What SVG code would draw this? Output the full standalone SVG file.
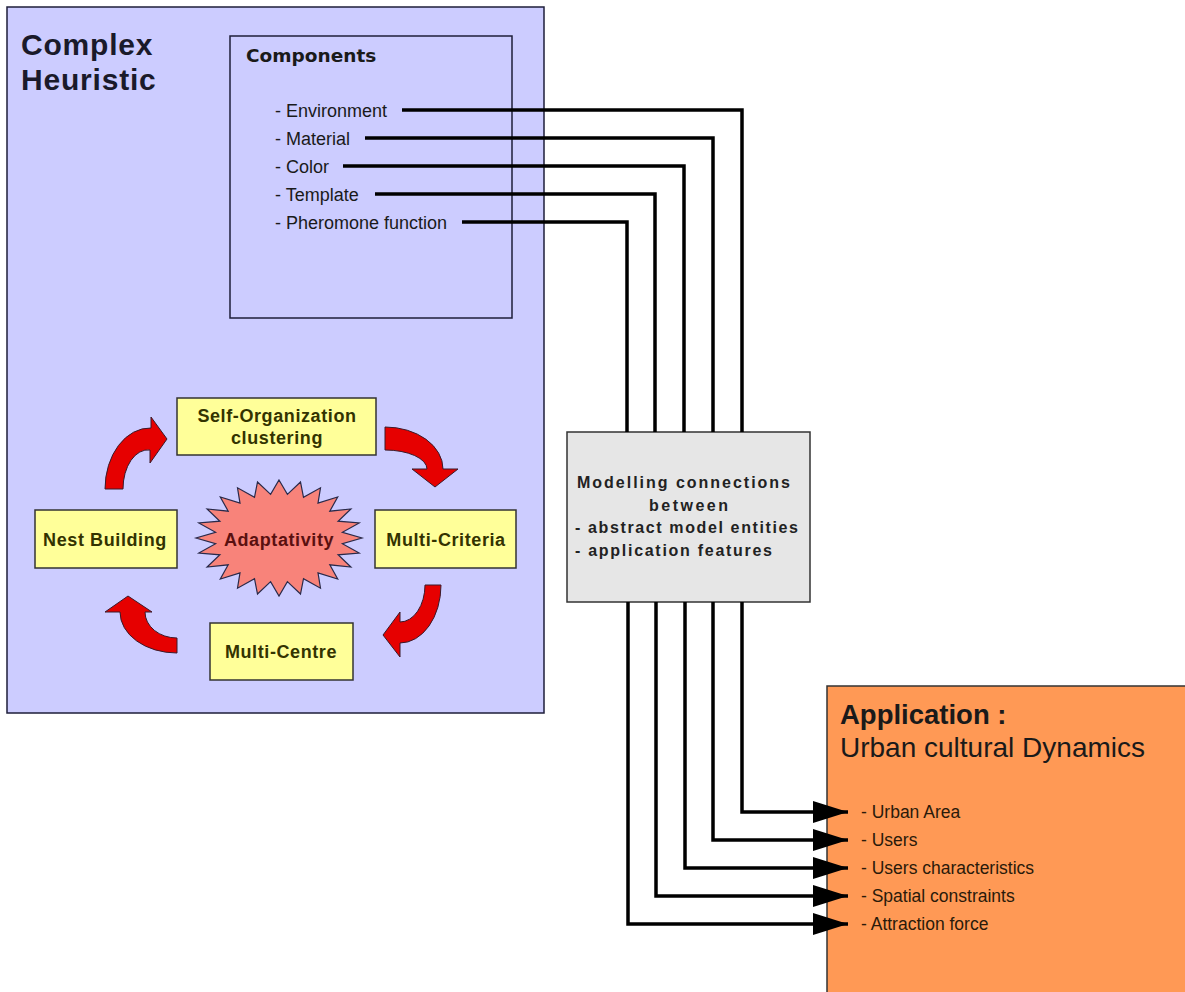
<svg xmlns="http://www.w3.org/2000/svg" width="1185" height="992" viewBox="0 0 1185 992">
<defs>
<style>
.panel{fill:#ccccff;stroke:#1e1e3a;stroke-width:1.5}
.ybox{fill:#ffff99;stroke:#333;stroke-width:1.5}
.item{font-family:"Liberation Sans",Arial,sans-serif;font-size:18px;fill:#1a1a1a}
.appitem{font-family:"Liberation Sans",Arial,sans-serif;font-size:17.5px;fill:#2a1a0a}
.cyc{font-family:"Liberation Sans",Arial,sans-serif;font-size:18px;font-weight:bold;fill:#333300;letter-spacing:0.6px;text-anchor:middle}
.grey{font-family:"Liberation Sans",Arial,sans-serif;font-size:16px;font-weight:bold;fill:#222}
.conn{fill:none;stroke:#000;stroke-width:3.5;stroke-linejoin:miter}
.red{fill:#e60000;stroke:#3a1a2a;stroke-width:1}
</style>
<marker id="ah" markerUnits="userSpaceOnUse" markerWidth="36" markerHeight="24" refX="35" refY="12" orient="auto">
<path d="M0,1 L35,12 L0,23 Z" fill="#000"/>
</marker>
</defs>
<rect width="1185" height="992" fill="#ffffff"/>

<g id="complex-heuristic">
<rect class="panel" x="7" y="7" width="537" height="706"/>
<text x="21" y="55" font-family="'Liberation Sans',Arial,sans-serif" font-size="30" font-weight="bold" letter-spacing="0.8" fill="#1a1a2a">Complex</text>
<text x="21" y="90" font-family="'Liberation Sans',Arial,sans-serif" font-size="30" font-weight="bold" letter-spacing="0.8" fill="#1a1a2a">Heuristic</text>
</g>

<g id="components">
<rect x="230" y="36" width="282" height="282" fill="#ccccff" stroke="#1e1e3a" stroke-width="1.5"/>
<text x="246" y="62" font-family="'DejaVu Sans',sans-serif" font-size="18.5" font-weight="bold" fill="#1a1a1a">Components</text>
<text class="item" x="275" y="116.5">- Environment</text>
<text class="item" x="275" y="144.5">- Material</text>
<text class="item" x="275" y="172.5">- Color</text>
<text class="item" x="275" y="200.5">- Template</text>
<text class="item" x="275" y="228.5">- Pheromone function</text>
</g>

<g id="cycle-arrows">
<path class="red" d="M105,489 A45,61 0 0 1 151,428 L151,417 L167,439 L150,463 L150,450 A25,39 0 0 0 123,489 Z"/>
<path class="red" d="M385,427 A58,42 0 0 1 443,469 L458,469 L435,487 L412,469 L427,469 A42,19 0 0 0 385,450 Z"/>
<path class="red" d="M441,585 A41,58 0 0 1 400,643 L400,657 L383,635 L400,612 L400,622 A25,37 0 0 0 425,585 Z"/>
<path class="red" d="M177,653 A57,41 0 0 1 120,612 L105,612 L128,596 L152,612 L145,612 A32,26 0 0 0 177,638 Z"/>
</g>

<g id="self-organization">
<rect class="ybox" x="177" y="398" width="199" height="57"/>
<text class="cyc" x="277" y="422">Self-Organization</text>
<text class="cyc" x="277" y="444">clustering</text>
</g>

<g id="nest-building">
<rect class="ybox" x="35" y="510" width="142" height="58"/>
<text class="cyc" x="105" y="546">Nest Building</text>
</g>

<g id="multi-criteria">
<rect class="ybox" x="375" y="510" width="141" height="58"/>
<text class="cyc" x="446" y="546">Multi-Criteria</text>
</g>

<g id="multi-centre">
<rect class="ybox" x="210" y="623" width="143" height="57"/>
<text class="cyc" x="281" y="658">Multi-Centre</text>
</g>

<g id="adaptativity">
<polygon fill="#f8837a" stroke="#2a2a4a" stroke-width="1.2" points="279,480 287.4,494.4 300.5,482 303.5,497.3 320.5,487.8 318,503.1 337.7,497 329.8,511.2 350.9,509 338.1,521.2 359.2,523 342.4,532.3 362,538 342.4,543.7 359.2,553 338.1,554.8 350.9,567 329.8,564.8 337.7,579 318,572.9 320.5,588.2 303.5,578.7 300.5,594 287.4,581.6 279,596 270.6,581.6 257.5,594 254.5,578.7 237.5,588.2 240,572.9 220.3,579 228.2,564.8 207.1,567 219.9,554.8 198.8,553 215.6,543.7 196,538 215.6,532.3 198.8,523 219.9,521.2 207.1,509 228.2,511.2 220.3,497 240,503.1 237.5,487.8 254.5,497.3 257.5,482 270.6,494.4"/>
<text class="cyc" x="279" y="546" style="fill:#5a1010">Adaptativity</text>
</g>

<g id="modelling">
<rect x="567" y="432" width="243" height="170" fill="#e6e6e6" stroke="#333" stroke-width="1.5"/>
<text class="grey" x="577" y="488" textLength="213" lengthAdjust="spacing">Modelling connections</text>
<text class="grey" x="649" y="511" textLength="79" lengthAdjust="spacing">between</text>
<text class="grey" x="575" y="533" textLength="223" lengthAdjust="spacing">- abstract model entities</text>
<text class="grey" x="575" y="556" textLength="197" lengthAdjust="spacing">- application features</text>
</g>

<g id="application">
<rect x="827" y="686" width="400" height="400" fill="#ff9955" stroke="#333" stroke-width="1.5"/>
<text x="840" y="724" font-family="'Liberation Sans',Arial,sans-serif" font-size="27.5" font-weight="bold" fill="#1a1a1a">Application :</text>
<text x="840" y="757" font-family="'Liberation Sans',Arial,sans-serif" font-size="28" fill="#1a1a1a">Urban cultural Dynamics</text>
<text class="appitem" x="861" y="818">- Urban Area</text>
<text class="appitem" x="861" y="846">- Users</text>
<text class="appitem" x="861" y="874">- Users characteristics</text>
<text class="appitem" x="861" y="902">- Spatial constraints</text>
<text class="appitem" x="861" y="930">- Attraction force</text>
</g>

<g id="connectors">
<path class="conn" d="M402,110 H742 V432"/>
<path class="conn" d="M365,138 H713 V432"/>
<path class="conn" d="M343,166 H684 V432"/>
<path class="conn" d="M375,194 H655 V432"/>
<path class="conn" d="M462,222 H627 V432"/>
<path class="conn" d="M742,602 V812 H848" marker-end="url(#ah)"/>
<path class="conn" d="M713,602 V840 H848" marker-end="url(#ah)"/>
<path class="conn" d="M685,602 V868 H848" marker-end="url(#ah)"/>
<path class="conn" d="M656,602 V896 H848" marker-end="url(#ah)"/>
<path class="conn" d="M628,602 V924 H848" marker-end="url(#ah)"/>
</g>
</svg>
